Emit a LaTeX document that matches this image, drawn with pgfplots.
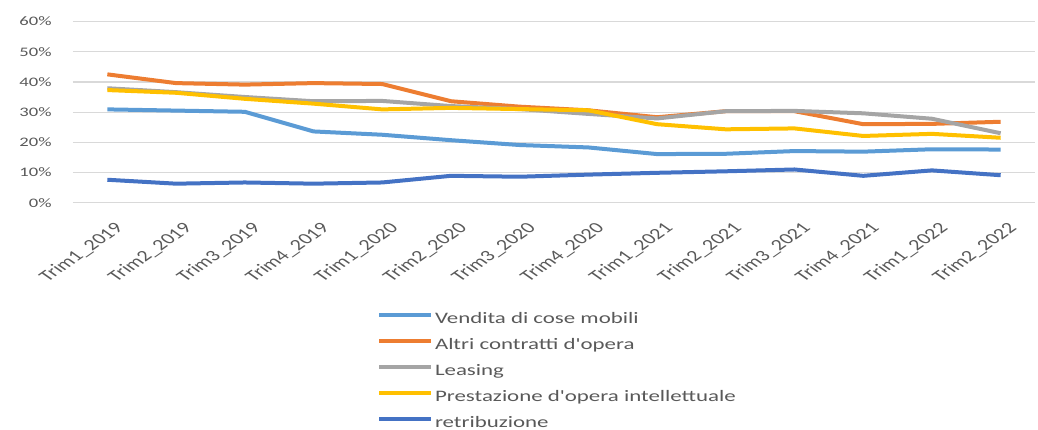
\documentclass[border=0pt]{standalone}
\usepackage{fontspec}
\setmainfont{Carlito}
\newfontfamily\widefont{Carlito}[FakeStretch=1.43]
\usepackage{pgfplots}
\pgfplotsset{compat=1.18}

\definecolor{cVendita}{HTML}{5B9BD5}
\definecolor{cAltri}{HTML}{ED7D31}
\definecolor{cLeasing}{HTML}{A5A5A5}
\definecolor{cPrest}{HTML}{FFC000}
\definecolor{cRetr}{HTML}{4472C4}
\definecolor{gridgray}{HTML}{D9D9D9}
\definecolor{txtgray}{HTML}{595959}

\begin{document}
\begin{tikzpicture}
\begin{axis}[
    scale only axis,
    width=481pt, height=90.6pt,
    xmin=-0.5, xmax=13.5,
    ymin=0, ymax=60,
    ytick={0,10,...,60},
    xtick={0,...,13},
    xticklabels={Trim1\_2019,Trim2\_2019,Trim3\_2019,Trim4\_2019,
                 Trim1\_2020,Trim2\_2020,Trim3\_2020,Trim4\_2020,
                 Trim1\_2021,Trim2\_2021,Trim3\_2021,Trim4\_2021,
                 Trim1\_2022,Trim2\_2022},
    yticklabel={\pgfmathprintnumber[assume math mode=true]{\tick}\%},
    ymajorgrids,
    grid style={color=gridgray, line width=0.6pt},
    axis line style={draw=none},
    major tick length=0pt,
    yticklabel style={font=\widefont\fontsize{6.5}{8}\selectfont, text=txtgray,
        anchor=east, inner sep=0pt, xshift=-10.5pt},
    xticklabel style={font=\fontsize{7.8}{9}\selectfont, text=txtgray,
        anchor=north east, inner sep=0pt, xshift=3pt, yshift=-9pt, xscale=1.43, rotate=45},
    every axis plot/.append style={line width=2pt, line join=round, no marks},
    legend style={at={(0.3156,-0.598)}, anchor=north west, draw=none, fill=none,
        inner sep=0pt, font=\widefont\fontsize{8}{10}\selectfont, text=txtgray,
        nodes={inner sep=0pt, text height=6pt, text depth=2pt},
        row sep=5pt, column sep=1pt},
    legend cell align=left,
    legend image code/.code={\draw[#1] (0pt,2pt) -- (26pt,2pt);},
]
\addplot[cVendita] coordinates {(0,30.9) (1,30.5) (2,30.1) (3,23.6) (4,22.5) (5,20.7) (6,19.1) (7,18.3) (8,16.1) (9,16.2) (10,17.1) (11,16.9) (12,17.7) (13,17.6)};
\addlegendentry{Vendita di cose mobili}
\addplot[cAltri] coordinates {(0,42.5) (1,39.6) (2,39.1) (3,39.6) (4,39.3) (5,33.6) (6,31.8) (7,30.6) (8,28.3) (9,30.3) (10,30.3) (11,26.0) (12,26.1) (13,26.8)};
\addlegendentry{Altri contratti d'opera}
\addplot[cLeasing] coordinates {(0,37.9) (1,36.6) (2,35.0) (3,33.6) (4,33.7) (5,32.0) (6,31.0) (7,29.4) (8,27.9) (9,30.3) (10,30.4) (11,29.6) (12,27.8) (13,23.0)};
\addlegendentry{Leasing}
\addplot[cPrest] coordinates {(0,37.3) (1,36.4) (2,34.4) (3,32.8) (4,30.9) (5,31.4) (6,31.0) (7,30.6) (8,26.0) (9,24.3) (10,24.6) (11,22.1) (12,22.8) (13,21.5)};
\addlegendentry{Prestazione d'opera intellettuale}
\addplot[cRetr] coordinates {(0,7.6) (1,6.3) (2,6.7) (3,6.3) (4,6.7) (5,8.9) (6,8.6) (7,9.3) (8,9.9) (9,10.4) (10,11.0) (11,8.9) (12,10.7) (13,9.1)};
\addlegendentry{retribuzione}
\end{axis}
\pgfresetboundingbox
\path[use as bounding box] (-36.5pt,-113.15pt) rectangle (482.5pt,101.35pt);
\end{tikzpicture}
\end{document}
